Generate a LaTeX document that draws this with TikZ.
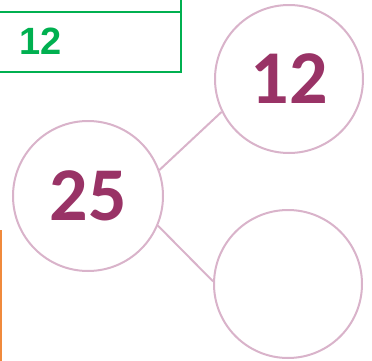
\documentclass[tikz,border=0pt]{standalone}
\usepackage{fontspec}
\newfontfamily\numfont{Carlito}
\newfontfamily\arialfont{Liberation Sans}
\definecolor{ringc}{HTML}{D9B3CA}
\definecolor{numc}{HTML}{993366}
\definecolor{boxgreen}{HTML}{00B050}
\definecolor{edgeorange}{HTML}{F08A3C}
\tikzset{
  ring/.style={circle, draw=ringc, line width=2pt, inner sep=0pt, fill=white},
  numtext/.style={font=\numfont\bfseries\fontsize{76}{76}\selectfont, text=numc},
  link/.style={draw=ringc, line width=2pt},
  greenline/.style={draw=boxgreen, line width=2pt}
}
\begin{document}
\begin{tikzpicture}[x=1pt,y=1pt]
\useasboundingbox (0,0) rectangle (372,360);
% green table fragment
\draw[greenline] (-5,288) rectangle (181,372);
\coordinate (rowL) at (-5,348);
\coordinate (rowR) at (181,348);
\draw[greenline] (rowL) -- (rowR);
\node[font=\arialfont\bfseries\fontsize{38}{38}\selectfont, text=boxgreen] (g12) at (41,319) {12};
% orange edge
\coordinate (oTop) at (1,130);
\coordinate (oBot) at (1,-3);
\draw[draw=edgeorange, line width=2pt] (oTop) -- (oBot);
% circles
\node[ring, minimum size=150pt, numtext] (A) at (88,164) {25};
\node[ring, minimum size=148pt, numtext] (B) at (289,281) {12};
\node[ring, minimum size=148pt] (C) at (288,76) {};
\draw[link] (A.20) -- (B.206);
\draw[link] (A.-23) -- (C.178);
\end{tikzpicture}
\end{document}
